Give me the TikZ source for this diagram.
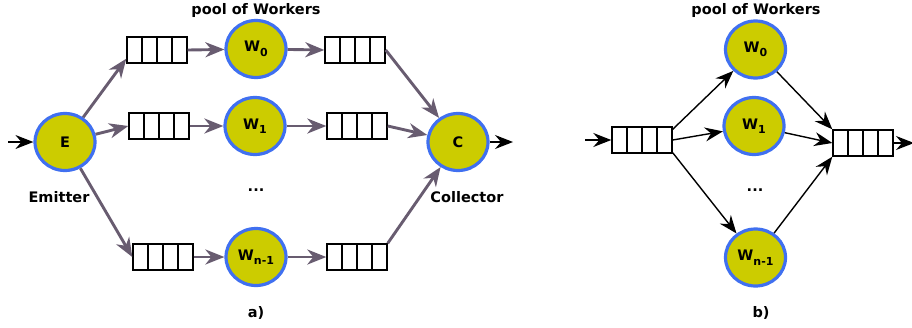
\documentclass[tikz,border=0pt]{standalone}
\usepackage{fontspec}
\setmainfont{DejaVu Sans}
\usetikzlibrary{arrows.meta,shapes.geometric}

\definecolor{wfill}{RGB}{204,204,0}
\definecolor{wborder}{RGB}{64,112,240}
\definecolor{flow}{RGB}{104,92,112}

% lowered index used in the worker names
\newcommand\wsub[1]{\raisebox{-4.5pt}{\fontsize{11}{11}\selectfont #1}}

\tikzset{
  worker/.style={ellipse, draw=wborder, fill=wfill, line width=3.2pt,
    minimum width=60pt, minimum height=57pt, inner sep=0pt,
    font=\bfseries\fontsize{14.5}{14.5}\selectfont},
  queue/.style={draw, line width=1.4pt, minimum width=60pt, minimum height=26pt,
    inner sep=0pt,
    path picture={
      \draw[line width=1.4pt]
        (path picture bounding box.north) -- (path picture bounding box.south)
        ([xshift=-15pt]path picture bounding box.north) -- ([xshift=-15pt]path picture bounding box.south)
        ([xshift=15pt]path picture bounding box.north) -- ([xshift=15pt]path picture bounding box.south);
    }},
  label/.style={anchor=base, inner sep=0pt, font=\bfseries\fontsize{14.5}{14.5}\selectfont},
  flowarrow/.style={draw=flow, line width=2.9pt,
    -{Stealth[length=19pt, width=15pt, inset=6pt]}},
  plainarrow/.style={draw=black, line width=1.4pt,
    -{Stealth[length=18pt, width=14pt, inset=6pt]}}
}

\begin{document}
\begin{tikzpicture}[x=1pt, y=-1pt]
  \useasboundingbox (0,0) rectangle (912,327);

  % ---------- a) emitter / workers / collector with queues ----------
  \coordinate (ain) at (8,142);
  \coordinate (aout) at (513,142);
  \node[worker] (E) at (65,142) {E};
  \node[worker] (aW0) at (256,49) {W\wsub{0}};
  \node[worker] (aW1) at (255,126) {W\wsub{1}};
  \node[worker] (aW2) at (256,257) {W\wsub{n-1}};
  \node[worker] (C) at (458,142) {C};

  \node[queue] (aq0) at (157,50) {};
  \node[queue] (aq1) at (159,126) {};
  \node[queue] (aq2) at (163,257) {};
  \node[queue] (ar0) at (355,50) {};
  \node[queue] (ar1) at (357,126) {};
  \node[queue] (ar2) at (357,257) {};

  \draw[plainarrow] (ain) -- (E);
  \draw[flowarrow] (E) -- ([yshift=5pt]aq0.south west);
  \draw[flowarrow] (E) -- (aq1.west);
  \draw[flowarrow] (E) -- (aq2.west);
  \draw[flowarrow] (aq0.east) -- (aW0);
  \draw[flowarrow] (aq1.east) -- (aW1);
  \draw[flowarrow] (aq2.east) -- (aW2);
  \draw[flowarrow] (aW0) -- (ar0.west);
  \draw[flowarrow] (aW1) -- (ar1.west);
  \draw[flowarrow] (aW2) -- (ar2.west);
  \draw[flowarrow] (ar0.east) -- (C);
  \draw[flowarrow] (ar1.east) -- (C);
  \draw[flowarrow] (ar2.north east) -- (C);
  \draw[plainarrow] (C) -- (aout);

  \node[label] (apool) at (256,14) {pool of Workers};
  \node[label] (emit) at (59,202) {Emitter};
  \node[label] (coll) at (467,202) {Collector};
  \node[label] (adots) at (256,191) {...};
  \node[label] (acap) at (256,317) {a)};

  % ---------- b) shared input queue, workers, output queue ----------
  \coordinate (bin) at (585,140);
  \coordinate (bout) at (914,143);
  \node[queue] (bq) at (642,140) {};
  \node[queue] (br) at (863,143) {};
  \node[worker] (bW0) at (755.5,49.5) {W\wsub{0}};
  \node[worker] (bW1) at (754,126) {W\wsub{1}};
  \node[worker] (bW2) at (755.5,257.5) {W\wsub{n-1}};

  \draw[plainarrow] (bin) -- (bq.west);
  \draw[plainarrow] ([yshift=-3pt]bq.north east) -- (bW0);
  \draw[plainarrow] (bq.east) -- (bW1);
  \draw[plainarrow] ([yshift=1pt]bq.south east) -- (bW2);
  \draw[plainarrow] (bW0) -- (br.north west);
  \draw[plainarrow] (bW1) -- (br.west);
  \draw[plainarrow] (bW2) -- (br.south west);
  \draw[plainarrow] (br.east) -- (bout);

  \node[label] (bpool) at (756,14) {pool of Workers};
  \node[label] (bdots) at (755,191) {...};
  \node[label] (bcap) at (761,317) {b)};
\end{tikzpicture}
\end{document}
